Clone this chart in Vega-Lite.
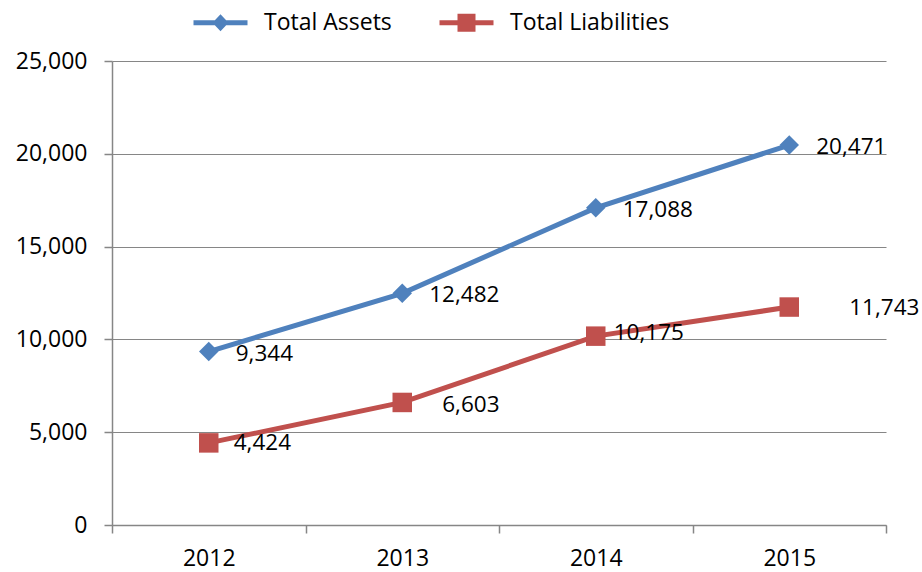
{
  "$schema": "https://vega.github.io/schema/vega-lite/v6.json",
  "width": 774,
  "height": 464,
  "autosize": "none",
  "padding": {"left": 112, "top": 61, "right": 36, "bottom": 47},
  "background": "white",
  "config": {
    "view": {"stroke": null},
    "font": "Open Sans",
    "axis": {
      "domainColor": "#868686",
      "gridColor": "#868686",
      "tickColor": "#868686",
      "labelColor": "#000000",
      "labelFont": "Open Sans",
      "labelFontSize": 23,
      "tickSize": 8,
      "domainWidth": 1.5,
      "tickWidth": 1.5,
      "gridWidth": 1.2
    }
  },
  "data": {
    "values": [
      {"year": "2012", "series": "Total Assets", "value": 9344},
      {"year": "2013", "series": "Total Assets", "value": 12482},
      {"year": "2014", "series": "Total Assets", "value": 17088},
      {"year": "2015", "series": "Total Assets", "value": 20471},
      {"year": "2012", "series": "Total Liabilities", "value": 4424},
      {"year": "2013", "series": "Total Liabilities", "value": 6603},
      {"year": "2014", "series": "Total Liabilities", "value": 10175},
      {"year": "2015", "series": "Total Liabilities", "value": 11743}
    ]
  },
  "encoding": {
    "x": {
      "field": "year",
      "type": "ordinal",
      "bandPosition": 0.5,
      "scale": {"type": "band", "paddingInner": 0, "paddingOuter": 0},
      "axis": {"title": null, "tickBand": "extent", "labelAngle": 0, "grid": false, "labelPadding": 14}
    },
    "y": {
      "field": "value",
      "type": "quantitative",
      "scale": {"domain": [0, 25000]},
      "axis": {"title": null, "values": [0, 5000, 10000, 15000, 20000, 25000], "format": ",d", "labelPadding": 17, "grid": true}
    }
  },
  "layer": [
    {
      "mark": {"type": "line", "strokeWidth": 5},
      "encoding": {
        "color": {"field": "series", "type": "nominal", "scale": {"domain": ["Total Assets", "Total Liabilities"], "range": ["#4F81BD", "#C0504D"]}, "legend": null}
      }
    },
    {
      "mark": {"type": "point", "filled": true, "opacity": 1, "size": 380},
      "encoding": {
        "color": {"field": "series", "type": "nominal", "scale": {"domain": ["Total Assets", "Total Liabilities"], "range": ["#4F81BD", "#C0504D"]}, "legend": null},
        "shape": {"field": "series", "type": "nominal", "scale": {"domain": ["Total Assets", "Total Liabilities"], "range": ["diamond", "square"]}, "legend": null}
      }
    },
    {
      "transform": [{"filter": "datum.series == 'Total Assets'"}],
      "mark": {"type": "text", "align": "left", "baseline": "middle", "dx": 27, "dy": 2, "fontSize": 22.5, "color": "#000000"},
      "encoding": {"text": {"field": "value", "type": "quantitative", "format": ",d"}}
    },
    {
      "transform": [{"filter": "datum.series == 'Total Liabilities' && datum.year == '2012'"}],
      "mark": {"type": "text", "align": "left", "baseline": "middle", "dx": 25, "dy": 0, "fontSize": 22.5, "color": "#000000"},
      "encoding": {"text": {"field": "value", "type": "quantitative", "format": ",d"}}
    },
    {
      "transform": [{"filter": "datum.series == 'Total Liabilities' && datum.year == '2013'"}],
      "mark": {"type": "text", "align": "left", "baseline": "middle", "dx": 40, "dy": 3, "fontSize": 22.5, "color": "#000000"},
      "encoding": {"text": {"field": "value", "type": "quantitative", "format": ",d"}}
    },
    {
      "transform": [{"filter": "datum.series == 'Total Liabilities' && datum.year == '2014'"}],
      "mark": {"type": "text", "align": "left", "baseline": "middle", "dx": 18, "dy": -3, "fontSize": 22.5, "color": "#000000"},
      "encoding": {"text": {"field": "value", "type": "quantitative", "format": ",d"}}
    },
    {
      "transform": [{"filter": "datum.series == 'Total Liabilities' && datum.year == '2015'"}],
      "mark": {"type": "text", "align": "left", "baseline": "middle", "dx": 60, "dy": 1, "fontSize": 22.5, "color": "#000000"},
      "encoding": {"text": {"field": "value", "type": "quantitative", "format": ",d"}}
    },
    {
      "transform": [{"filter": "datum.value < 0"}],
      "mark": {"type": "point", "filled": true, "opacity": 1},
      "encoding": {
        "color": {
          "field": "series", "type": "nominal",
          "scale": {"domain": ["Total Assets", "Total Liabilities"], "range": ["#4F81BD", "#C0504D"]},
          "legend": {"orient": "none", "legendX": 97, "legendY": -50, "direction": "horizontal", "title": null, "symbolSize": 400, "symbolStrokeWidth": 0, "symbolOpacity": 1, "labelFontSize": 23, "labelFont": "Open Sans", "labelColor": "#000000", "labelOffset": 32, "columnPadding": 47}
        },
        "shape": {
          "field": "series", "type": "nominal",
          "scale": {"domain": ["Total Assets", "Total Liabilities"], "range": ["M-2.7,-0.24H2.7V0.24H-2.7Z M0,-0.85L0.8,0L0,0.85L-0.8,0Z", "M-2.7,-0.24H2.7V0.24H-2.7Z M-0.9,-0.9H0.9V0.9H-0.9Z"]},
          "legend": {"orient": "none", "legendX": 97, "legendY": -50, "direction": "horizontal", "title": null, "symbolSize": 400, "symbolStrokeWidth": 0, "symbolOpacity": 1, "labelFontSize": 23, "labelFont": "Open Sans", "labelColor": "#000000", "labelOffset": 32, "columnPadding": 47}
        }
      }
    }
  ],
  "resolve": {"scale": {"shape": "independent", "color": "independent"}}
}
